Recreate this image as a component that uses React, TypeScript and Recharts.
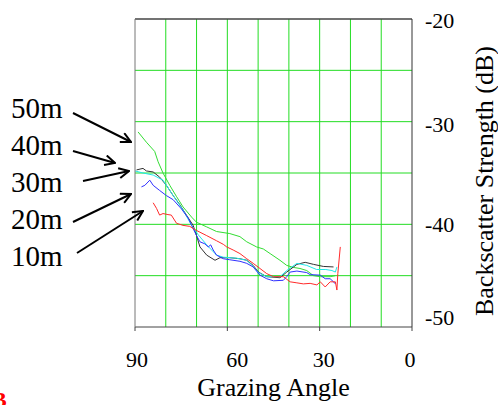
// Backscatter strength vs grazing angle, one curve per depth (10m–50m).
import { CartesianGrid, Line, LineChart, ReferenceLine, XAxis, YAxis } from "recharts";

const SERIF = "'Liberation Serif', 'Times New Roman', serif";

// [grazing angle (deg), backscatter strength (dB)]
const depth50m: [number, number][] = [
  [89, -31.0], [86.3, -32.0], [83.6, -32.9], [82.5, -33.9], [80.9, -35.0], [78.7, -36.2],
  [76.5, -37.3], [74.4, -38.3], [71.6, -39.3], [70, -39.8], [66.7, -40.25], [63.5, -40.7],
  [59.2, -40.9], [55.9, -41.2], [53.7, -41.7], [50.5, -42.2], [48.3, -42.4], [46.1, -42.85],
  [42.9, -43.5], [40.7, -44.0], [38.5, -44.2], [36.4, -44.3], [34.2, -44.5], [32, -45.0],
  [29.8, -45.1], [26.6, -45.1], [24.9, -45.0],
];
const depth40m: [number, number][] = [
  [89.5, -34.7], [87.4, -34.55], [86.3, -34.8], [84.1, -34.9], [82, -35.4], [79.8, -36.2],
  [77.6, -37.2], [75.4, -38.1], [73.3, -39.1], [71.1, -40.1], [70, -41.1], [68.9, -42.2],
  [66.7, -43.0], [64, -43.5], [62.4, -43.25], [59.2, -43.25], [55.9, -43.35], [53.7, -43.5],
  [51.6, -44.0], [49.9, -44.65], [47.2, -45.1], [42.9, -45.2], [40.7, -44.65], [37.4, -43.9],
  [34.7, -43.7], [32, -43.9], [28.8, -44.1], [25.5, -44.15],
];
const depth30m: [number, number][] = [
  [90, -34.8], [87.4, -35.0], [84.1, -35.2], [80.9, -35.7], [77.6, -37.2], [74.4, -38.6],
  [71.6, -40.1], [69.5, -41.0], [66.7, -42.0], [63.5, -43.0], [61.3, -43.2], [57, -43.3],
  [53.7, -43.5], [51.6, -44.1], [49.9, -44.7], [47.2, -45.1], [42.9, -45.1], [40.7, -44.5],
  [37.4, -43.8], [34.2, -44.0], [31, -44.4], [28, -44.4], [26, -44.5], [24.9, -44.65],
  [24.4, -44.15],
];
const depth20m: [number, number][] = [
  [87.9, -36.35], [86.8, -36.2], [85.2, -35.7], [84.1, -36.2], [82, -36.7], [79.8, -37.2],
  [77.6, -37.6], [74.9, -38.5], [72.7, -39.4], [71.6, -40.1], [70, -41.1], [68.9, -41.7],
  [67.3, -41.9], [66.2, -42.2], [65.4, -42.0], [64.6, -42.5], [63.5, -43.0], [61.3, -43.35],
  [59.2, -43.45], [55.9, -43.6], [53.7, -43.8], [51.6, -44.15], [49.4, -44.95], [47.2, -45.3],
  [45, -45.5], [41.8, -45.45], [40.7, -45.1], [39.6, -44.65], [37.4, -44.55], [34.2, -44.7],
  [33.1, -44.9], [29.8, -44.95], [28.2, -45.3], [26.6, -45.3], [25.5, -45.6], [24.9, -45.8],
];
const depth10m: [number, number][] = [
  [84.1, -37.9], [83, -38.45], [82, -39.1], [80.9, -38.95], [79.3, -39.05], [78.2, -39.1],
  [76.5, -39.9], [74.4, -40.1], [72.2, -40.2], [70, -40.6], [66.7, -41.1], [63.5, -41.6],
  [61.3, -41.95], [60.2, -42.2], [58.1, -42.5], [55.9, -42.85], [53.7, -43.35], [51.6, -43.8],
  [49.4, -44.3], [47.2, -44.8], [45, -45.1], [41.8, -45.1], [39.6, -45.6], [37.4, -45.7],
  [35.3, -45.8], [33.1, -45.75], [30.9, -45.9], [29.8, -45.6], [28.2, -46.1], [26.6, -45.6],
  [24.9, -45.6], [24.4, -46.4], [24.1, -44.8], [23.3, -42.2],
];

const angleTicks = [90, 60, 30, 0];
const dbTicks = [-20, -30, -40, -50];
const gridAngles = [80, 70, 60, 50, 40, 30, 20, 10];
const gridDb = [-25, -30, -35, -40, -45];
const depthLabels = ["50m", "40m", "30m", "20m", "10m"];

const series = [
  { name: "50m", points: depth50m, color: "#33dd33" },
  { name: "40m", points: depth40m, color: "#333333" },
  { name: "30m", points: depth30m, color: "#22e8e8" },
  { name: "20m", points: depth20m, color: "#3030ff" },
  { name: "10m", points: depth10m, color: "#ff2a2a" },
];

// small hand nudges the original labels had
const xNudge: Record<number, number> = { 90: 2, 60: 10, 30: 4, 0: -2 };
const yNudge: Record<number, number> = { [-20]: 1, [-30]: 3, [-40]: 0, [-50]: -10 };

function AngleTick({ x, y, payload }: any) {
  return (
    <text x={x + (xNudge[payload.value] ?? 0)} y={y} dy="0.71em" textAnchor="middle"
      fontFamily={SERIF} fontSize={22} fill="#000">
      {payload.value}
    </text>
  );
}

function DbTick({ x, y, payload }: any) {
  return (
    <text x={x} y={y + (yNudge[payload.value] ?? 0)} dy="0.355em" textAnchor="start"
      fontFamily={SERIF} fontSize={22} fill="#000">
      {payload.value}
    </text>
  );
}

// arrows from the depth labels to the curves
const arrows = [
  [73, 113, 131, 142],
  [73, 151, 115, 163],
  [83, 181, 129, 171],
  [73, 222, 131, 194],
  [77, 253, 143, 211],
];

export default function App() {
  return (
    <div style={{ position: "absolute", left: 0, top: 0, width: 498, height: 405, background: "#fff" }}>
      <LineChart width={498} height={405} margin={{ top: 19, right: 0, bottom: 0, left: 0 }}>
        <CartesianGrid
          xAxisId="angle"
          yAxisId="db"
          stroke="#22dd22"
          horizontalValues={gridDb}
          verticalValues={gridAngles}
        />
        <XAxis
          xAxisId="angle"
          type="number"
          dataKey="a"
          domain={[0, 90]}
          reversed
          ticks={angleTicks}
          interval={0}
          height={78}
          tickSize={4}
          tickMargin={20}
          stroke="#444"
          tick={<AngleTick />}
          label={{ value: "Grazing Angle", position: "insideBottom", offset: 9, fontFamily: SERIF, fontSize: 26, fill: "#000" }}
        />
        <YAxis
          yAxisId="left"
          orientation="left"
          type="number"
          domain={[-50, -20]}
          ticks={dbTicks}
          width={135}
          tick={false}
          tickSize={3}
          stroke="#777"
        />
        <YAxis
          yAxisId="db"
          orientation="right"
          type="number"
          domain={[-50, -20]}
          ticks={dbTicks}
          interval={0}
          width={86}
          tickLine={false}
          tickSize={0}
          tickMargin={13}
          stroke="#333"
          tick={<DbTick />}
        />
        <ReferenceLine xAxisId="angle" yAxisId="db" y={-20} stroke="#444" strokeWidth={1.5} />
        {series.map((s) => (
          <Line
            key={s.name}
            xAxisId="angle"
            yAxisId="db"
            data={s.points.map(([a, v]) => ({ a, v }))}
            dataKey="v"
            type="linear"
            stroke={s.color}
            strokeWidth={1}
            dot={false}
            isAnimationActive={false}
          />
        ))}
      </LineChart>
      <svg width={498} height={405} style={{ position: "absolute", left: 0, top: 0, pointerEvents: "none" }}>
        <defs>
          <marker id="head" viewBox="0 0 12 12" refX="11" refY="6" markerWidth="12" markerHeight="12"
            markerUnits="userSpaceOnUse" orient="auto">
            <path d="M1,1 L11,6 L1,11" fill="none" stroke="#000" strokeWidth={2} />
          </marker>
        </defs>
        {depthLabels.map((t, i) => (
          <text key={t} x={11} y={117.5 + i * 37} fontFamily={SERIF} fontSize={29} fill="#000">
            {t}
          </text>
        ))}
        {arrows.map(([x1, y1, x2, y2], i) => (
          <line key={i} x1={x1} y1={y1} x2={x2} y2={y2} stroke="#000" strokeWidth={2} markerEnd="url(#head)" />
        ))}
        <text transform="translate(493,181) rotate(-90)" textAnchor="middle" fontFamily={SERIF}
          fontSize={26} fill="#000">
          Backscatter Strength (dB)
        </text>
        <text x={-8} y={407} fontFamily={SERIF} fontSize={22} fontWeight="bold" fill="#ff0000">
          B
        </text>
      </svg>
    </div>
  );
}
